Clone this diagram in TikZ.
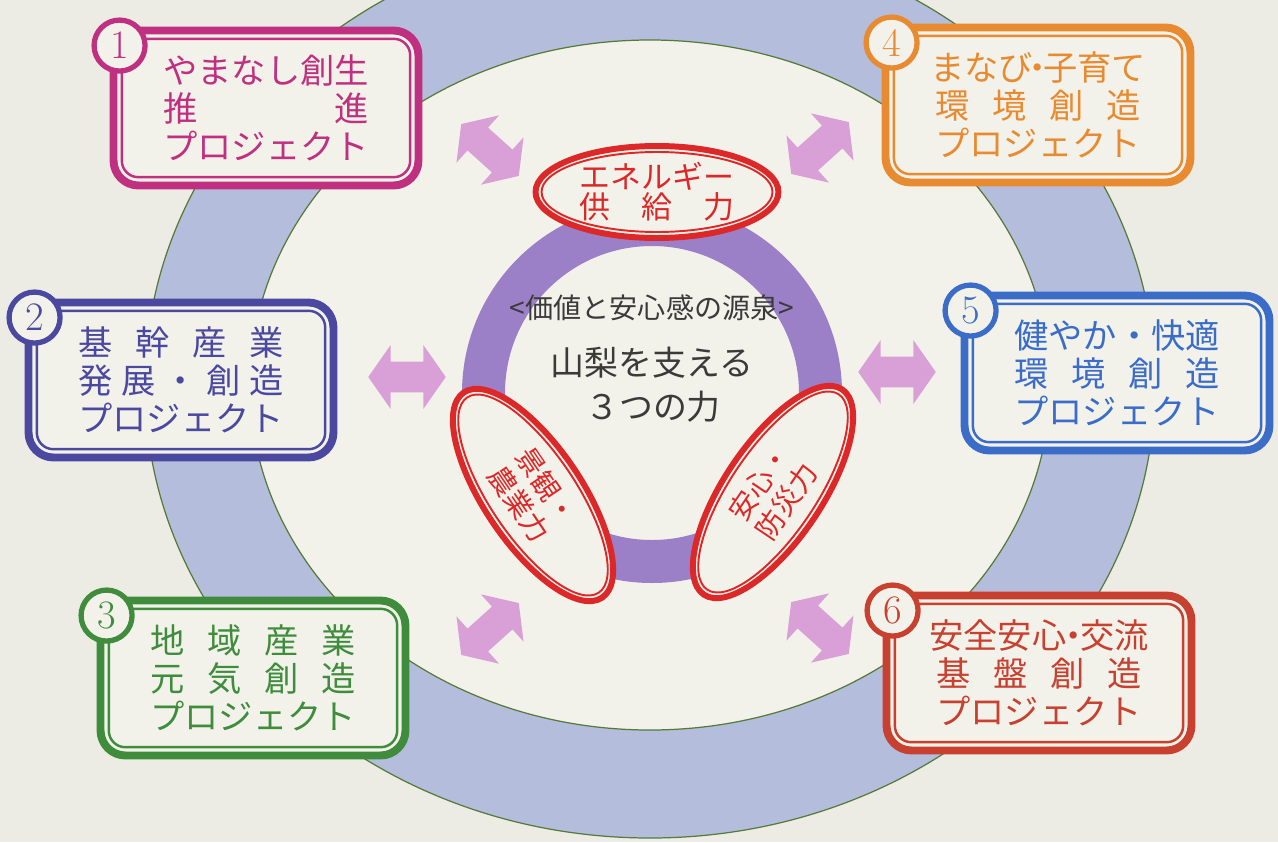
\documentclass[tikz,border=0pt]{standalone}
\usepackage{fontspec}
\newfontfamily\jpfont{Noto Sans CJK JP}
\usepackage{xcolor}
\usetikzlibrary{calc, positioning, shapes.geometric, shapes.arrows}
\definecolor{paper}{HTML}{ECECE4}
\definecolor{innerpaper}{HTML}{F2F2EA}
\definecolor{ringblue}{HTML}{B4BEDC}
\definecolor{ringedge}{HTML}{557A3A}
\definecolor{ringpurple}{HTML}{9B80C8}
\definecolor{arrowpink}{HTML}{D8A0D6}
\definecolor{ellred}{HTML}{DC2828}
\definecolor{darktext}{HTML}{3A3A3A}
\definecolor{c1}{HTML}{C03080}
\definecolor{c2}{HTML}{4B48A0}
\definecolor{c3}{HTML}{3E8C3C}
\definecolor{c4}{HTML}{E88A30}
\definecolor{c5}{HTML}{3A6CC8}
\definecolor{c6}{HTML}{C84030}
\newcommand{\prjline}[1]{\makebox[6em][s]{#1}}
\tikzset{
    prj/.style={
        rectangle, rounded corners=0.5cm, draw=#1, line width=4.5pt,
        fill=innerpaper, text=#1, align=center,
        minimum width=6.1cm, minimum height=3.1cm, inner sep=0pt,
        font=\jpfont\fontsize{19.5}{21.8}\selectfont
    },
    prjin/.style={draw=#1, line width=1.4pt, rounded corners=0.33cm},
    num/.style={circle, draw=#1, line width=3pt, fill=innerpaper, text=#1,
        minimum size=1.02cm, inner sep=0pt, font=\rmfamily\fontsize{23}{23}\selectfont},
    ellout/.style={ellipse, draw=ellred, line width=3.4pt, fill=innerpaper, inner sep=0pt},
    ellin/.style={ellipse, draw=ellred, line width=1.1pt, inner sep=0pt},
    elltext/.style={text=ellred, align=center, inner sep=0pt},
    midtext/.style={text=darktext, align=center, inner sep=0pt},
    dblarr/.style={double arrow, fill=arrowpink, inner sep=0pt,
        text height=0.3cm, text depth=0.3cm, text width=0pt,
        minimum height=1.55cm, minimum width=1.26cm,
        double arrow head extend=0.33cm, double arrow tip angle=110},
    ringline/.style={draw=ringedge, line width=0.7pt}
}

\begin{document}
\begin{tikzpicture}[x=0.02cm, y=-0.02cm]
    % Paper
    \fill[paper] (0,0) rectangle (1278,842);
    \useasboundingbox (0,0) rectangle (1278,842);
    \clip (0,0) rectangle (1278,842);

    % Outer blue ring
    \draw[ringline, fill=ringblue] (650,385) ellipse [x radius=505, y radius=453];
    \draw[ringline, fill=innerpaper] (650,385) ellipse [x radius=400, y radius=345];

    % Purple ring of the three powers
    \fill[ringpurple, even odd rule] (652,393) circle [radius=190] (652,393) circle [radius=147];

    % Double arrows
    \node[dblarr, rotate=-42] (a1) at (490,150) {};
    \node[dblarr, rotate=42] (a4) at (820,148) {};
    \node[dblarr] (a2) at (407,377) {};
    \node[dblarr] (a5) at (897,372) {};
    \node[dblarr, rotate=42] (a3) at (490,629) {};
    \node[dblarr, rotate=-42] (a6) at (820,628) {};

    % Centre text
    \node[midtext, font=\jpfont\fontsize{16}{16}\selectfont] (src) at (652,308) {<価値と安心感の源泉>};
    \node[midtext, font=\jpfont\fontsize{19.3}{19.3}\selectfont] (ttl) at (652,363) {山梨を支える};
    \node[midtext, font=\jpfont\fontsize{19.3}{19.3}\selectfont] (ttl2) at (653,407) {３つの力};

    % Three powers
    \node[ellout, minimum width=4.86cm, minimum height=1.84cm] (e1) at (657,192) {};
    \node[ellin, minimum width=4.62cm, minimum height=1.6cm] (e1in) at (e1.center) {};
    \node[elltext, font=\jpfont\fontsize{17.6}{17}\selectfont] (t1) at (e1.center)
        {エネルギー\\\makebox[5em][s]{供\hfill 給\hfill 力}};

    \node[ellout, minimum width=4.95cm, minimum height=1.95cm, rotate=-56] (e2) at (533,495) {};
    \node[ellin, minimum width=4.71cm, minimum height=1.71cm, rotate=-56] (e2in) at (e2.center) {};
    \node[elltext, rotate=-56, font=\jpfont\fontsize{16}{18.7}\selectfont] (t2) at (e2.center)
        {景観・\\農業力};

    \node[ellout, minimum width=4.95cm, minimum height=1.95cm, rotate=56] (e3) at (773,492) {};
    \node[ellin, minimum width=4.71cm, minimum height=1.71cm, rotate=56] (e3in) at (e3.center) {};
    \node[elltext, rotate=56, font=\jpfont\fontsize{16}{18.7}\selectfont] (t3) at (e3.center)
        {安心・\\防災力};

    % Projects
    \node[prj=c1] (p1) at (266,108) {やまなし創生\\\prjline{推\hfill 進}\\プロジェクト};
    \draw[prjin=c1] ($(p1.south west)+(0.245cm,0.245cm)$) rectangle ($(p1.north east)+(-0.245cm,-0.245cm)$);
    \node[num=c1] (n1) at ([xshift=0.2cm,yshift=-0.38cm]p1.north west) {1};

    \node[prj=c2] (p2) at (181,380) {\prjline{基\hfill 幹\hfill 産\hfill 業}\\\prjline{発\hfill 展\hfill ・\hfill 創\hfill 造}\\プロジェクト};
    \draw[prjin=c2] ($(p2.south west)+(0.245cm,0.245cm)$) rectangle ($(p2.north east)+(-0.245cm,-0.245cm)$);
    \node[num=c2] (n2) at ([xshift=0.2cm,yshift=-0.38cm]p2.north west) {2};

    \node[prj=c3] (p3) at (253,678) {\prjline{地\hfill 域\hfill 産\hfill 業}\\\prjline{元\hfill 気\hfill 創\hfill 造}\\プロジェクト};
    \draw[prjin=c3] ($(p3.south west)+(0.245cm,0.245cm)$) rectangle ($(p3.north east)+(-0.245cm,-0.245cm)$);
    \node[num=c3] (n3) at ([xshift=0.2cm,yshift=-0.38cm]p3.north west) {3};

    \node[prj=c4] (p4) at (1038,105) {まなび\makebox[0.3em]{・}子育て\\\prjline{環\hfill 境\hfill 創\hfill 造}\\プロジェクト};
    \draw[prjin=c4] ($(p4.south west)+(0.245cm,0.245cm)$) rectangle ($(p4.north east)+(-0.245cm,-0.245cm)$);
    \node[num=c4] (n4) at ([xshift=0.2cm,yshift=-0.38cm]p4.north west) {4};

    \node[prj=c5] (p5) at (1117,373) {健やか・快適\\\prjline{環\hfill 境\hfill 創\hfill 造}\\プロジェクト};
    \draw[prjin=c5] ($(p5.south west)+(0.245cm,0.245cm)$) rectangle ($(p5.north east)+(-0.245cm,-0.245cm)$);
    \node[num=c5] (n5) at ([xshift=0.2cm,yshift=-0.38cm]p5.north west) {5};

    \node[prj=c6] (p6) at (1039,673) {安全安心\makebox[0.4em]{・}交流\\\prjline{基\hfill 盤\hfill 創\hfill 造}\\プロジェクト};
    \draw[prjin=c6] ($(p6.south west)+(0.245cm,0.245cm)$) rectangle ($(p6.north east)+(-0.245cm,-0.245cm)$);
    \node[num=c6] (n6) at ([xshift=0.2cm,yshift=-0.38cm]p6.north west) {6};
\end{tikzpicture}
\end{document}
